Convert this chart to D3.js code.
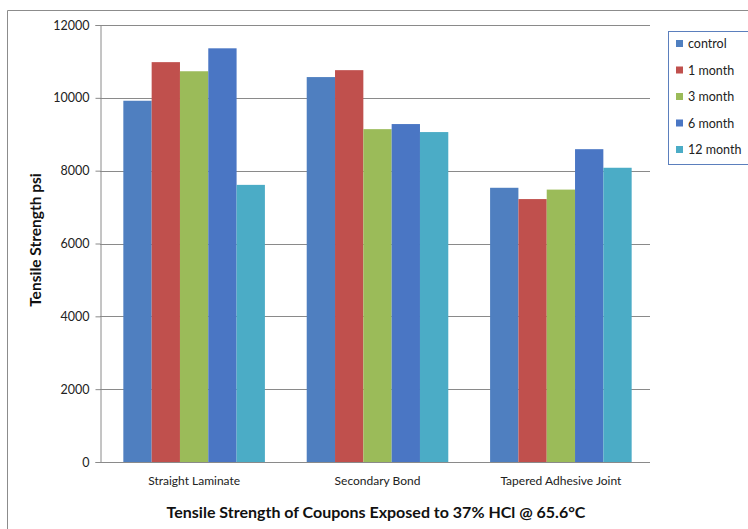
<!DOCTYPE html>
<html>
<head>
<meta charset="utf-8">
<script src="https://cdn.jsdelivr.net/npm/d3@7"></script>
<style>
  body { margin: 0; background: #fff; }
  svg { font-family: Lato, "Open Sans", sans-serif; }
</style>
</head>
<body>
<svg class="chart" width="748" height="529"></svg>
<script>
const categories = ['Straight Laminate', 'Secondary Bond', 'Tapered Adhesive Joint']
const seriesNames = ['control', '1 month', '3 month', '6 month', '12 month']
const seriesColors = ['#4f7fc0', '#c0504d', '#9bbb59', '#4a76c4', '#4bacc6']
// one array per series, values per category
const control = [9920, 10570, 7530]
const month1 = [10980, 10760, 7220]
const month3 = [10730, 9140, 7480]
const month6 = [11360, 9280, 8590]
const month12 = [7610, 9060, 8080]
const yTicks = [0, 2000, 4000, 6000, 8000, 10000, 12000]

const series = [control, month1, month3, month6, month12]

const svg = d3.select('.chart')
const width = +svg.attr('width')
const height = +svg.attr('height')

// chart frame (cut off on the right like the reference)
svg.append('path')
  .attr('d', `M7.5,${height} V10.5 H${width}`)
  .attr('fill', 'none')
  .attr('stroke', '#8c8c8c')

const margin = {left: 100, right: 98, top: 25, bottom: 67}
const plotW = width - margin.left - margin.right
const plotH = height - margin.top - margin.bottom

const g = svg.append('g')
  .attr('transform', `translate(${margin.left},${margin.top})`)

// excel leaves a little more room on the left
const x = d3.scaleBand()
  .domain(categories)
  .range([5, plotW])
  .paddingInner(0.228)
  .paddingOuter(0.1)

const xs = d3.scaleBand()
  .domain(seriesNames)
  .range([0, x.bandwidth()])

const y = d3.scaleLinear()
  .domain([0, 12000])
  .range([plotH, 0])

// gridlines
g.append('g')
  .selectAll('line')
  .data(yTicks)
  .join('line')
  .attr('x1', 0)
  .attr('x2', plotW)
  .attr('y1', d => Math.round(y(d)) + 0.5)
  .attr('y2', d => Math.round(y(d)) + 0.5)
  .attr('stroke', '#8a8a8a')

// y axis
const yAxis = g.append('g')
  .attr('transform', 'translate(0.5,0)')
  .call(d3.axisLeft(y).tickValues(yTicks).tickSize(5).tickPadding(6).tickFormat(d3.format('d')))
yAxis.select('.domain').attr('stroke', '#8a8a8a')
yAxis.selectAll('.tick line').attr('stroke', '#8a8a8a')
yAxis.selectAll('.tick text')
  .attr('font-size', 12.5)
  .attr('fill', '#222')
  .attr('font-family', 'Lato, sans-serif')

// bars
const groups = g.append('g')
  .selectAll('g')
  .data(categories)
  .join('g')
  .attr('transform', d => `translate(${x(d)},0)`)

groups.selectAll('rect')
  .data((c, ci) => seriesNames.map((s, si) => ({s, v: series[si][ci], color: seriesColors[si]})))
  .join('rect')
  .attr('x', d => xs(d.s))
  .attr('width', xs.bandwidth())
  .attr('y', d => y(d.v))
  .attr('height', d => plotH - y(d.v))
  .attr('fill', d => d.color)

// x axis baseline
g.append('line')
  .attr('x1', 0)
  .attr('x2', plotW)
  .attr('y1', plotH + 0.5)
  .attr('y2', plotH + 0.5)
  .attr('stroke', '#8a8a8a')

// category labels
g.append('g')
  .selectAll('text')
  .data(categories)
  .join('text')
  .attr('x', d => x(d) + x.bandwidth() / 2)
  .attr('y', plotH + 23)
  .attr('text-anchor', 'middle')
  .attr('font-size', 12)
  .attr('fill', '#222')
  .text(d => d)

// y axis title
svg.append('text')
  .attr('transform', 'translate(41,240) rotate(-90)')
  .attr('text-anchor', 'middle')
  .attr('font-size', 15.5)
  .attr('font-weight', 'bold')
  .attr('fill', '#111')
  .text('Tensile Strength psi')

// chart title at the bottom
svg.append('text')
  .attr('x', 376)
  .attr('y', 518)
  .attr('text-anchor', 'middle')
  .attr('font-size', 16)
  .attr('font-weight', 'bold')
  .attr('fill', '#111')
  .text('Tensile Strength of Coupons Exposed to 37% HCl @ 65.6°C')

// legend
const legend = svg.append('g')
  .attr('transform', 'translate(668,31)')

legend.append('rect')
  .attr('x', 0.5)
  .attr('y', 0.5)
  .attr('width', 90)
  .attr('height', 133)
  .attr('fill', '#fff')
  .attr('stroke', '#5b7fbd')

const items = legend.selectAll('g.item')
  .data(seriesNames)
  .join('g')
  .attr('class', 'item')
  .attr('transform', (d, i) => `translate(8,${13 + i * 26.5})`)

items.append('rect')
  .attr('y', -4)
  .attr('width', 7)
  .attr('height', 7)
  .attr('fill', (d, i) => seriesColors[i])

items.append('text')
  .attr('x', 12)
  .attr('y', 4)
  .attr('font-size', 12.5)
  .attr('fill', '#222')
  .text(d => d)
</script>
</body>
</html>
